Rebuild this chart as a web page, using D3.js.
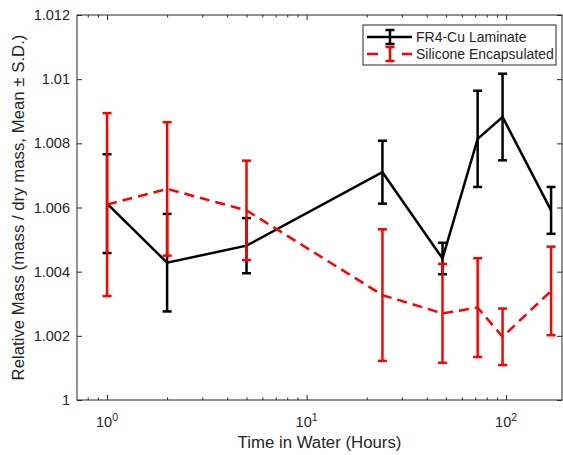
<!DOCTYPE html>
<html>
<head>
<meta charset="utf-8">
<title>Relative Mass vs Time in Water</title>
<script src="https://d3js.org/d3.v7.min.js"></script>
<style>
  body { margin: 0; background: #fff; }
  svg text { font-family: "Liberation Sans", Arial, Helvetica, sans-serif; fill: #262626; }
  .axis path { display: none; }
  .axis line { stroke: #262626; stroke-width: 1px; }
</style>
</head>
<body>
<div id="chart"></div>
<script>
// hours in water
var hours = [1, 2, 5, 24, 48, 72, 96, 168];

// FR4-Cu laminate: mean and s.d.
var fr4Mean = [1.00612, 1.00428, 1.00481, 1.00710, 1.00441, 1.00814, 1.00882, 1.00591];
var fr4SD   = [0.00154, 0.00152, 0.00086, 0.00098, 0.00049, 0.00150, 0.00135, 0.00073];

// silicone encapsulated: mean and s.d.
var silMean = [1.00609, 1.00658, 1.00591, 1.00327, 1.00270, 1.00288, 1.00197, 1.00340];
var silSD   = [0.00285, 0.00208, 0.00155, 0.00205, 0.00154, 0.00154, 0.00088, 0.00138];

var seriesNames = ["FR4-Cu Laminate", "Silicone Encapsulated"];

var yTicks = [1, 1.002, 1.004, 1.006, 1.008, 1.01, 1.012];
var yTickLabels = ["1", "1.002", "1.004", "1.006", "1.008", "1.01", "1.012"];
var xTicks = [1, 10, 100];
var xTickExp = ["0", "1", "2"];
var xMinor = [0.8, 0.9, 2, 3, 4, 5, 6, 7, 8, 9, 20, 30, 40, 50, 60, 70, 80, 90];

var width = 563, height = 455;
var pLeft = 77, pRight = 562, pTop = 15, pBottom = 400;

var svg = d3.select("#chart").append("svg")
    .attr("width", width)
    .attr("height", height);

var x = d3.scaleLog().domain([0.707, 190.6]).range([pLeft, pRight]);
var y = d3.scaleLinear().domain([1, 1.012]).range([pBottom, pTop]);

// box
svg.append("rect")
    .attr("x", pLeft).attr("y", pTop)
    .attr("width", pRight - pLeft).attr("height", pBottom - pTop)
    .attr("fill", "none").attr("stroke", "#262626").attr("stroke-width", 1);

// x ticks, bottom and top, pointing inward
function xAxis(g, gen, size, vals) {
  g.call(gen(x).tickValues(vals).tickSizeInner(-size).tickSizeOuter(0).tickFormat(""));
}
svg.append("g").attr("class", "axis").attr("transform", "translate(0," + pBottom + ")")
    .call(xAxis, d3.axisBottom, 5, xTicks);
svg.append("g").attr("class", "axis").attr("transform", "translate(0," + pBottom + ")")
    .call(xAxis, d3.axisBottom, 2.5, xMinor);
svg.append("g").attr("class", "axis").attr("transform", "translate(0," + pTop + ")")
    .call(xAxis, d3.axisTop, 5, xTicks);
svg.append("g").attr("class", "axis").attr("transform", "translate(0," + pTop + ")")
    .call(xAxis, d3.axisTop, 2.5, xMinor);

// x tick labels as 10^n
var xl = svg.append("g").selectAll("text")
    .data(xTicks)
    .enter().append("text")
      .attr("x", function(d) { return x(d); })
      .attr("y", 427)
      .attr("text-anchor", "middle")
      .style("font-size", "14.5px");
xl.append("tspan").text("10");
xl.append("tspan")
    .attr("dy", -6)
    .style("font-size", "10.5px")
    .text(function(d, i) { return xTickExp[i]; });

// y ticks left and right
svg.append("g").attr("class", "axis").attr("transform", "translate(" + pLeft + ",0)")
    .call(d3.axisLeft(y).tickValues(yTicks).tickSizeInner(-5).tickSizeOuter(0).tickPadding(7)
        .tickFormat(function(d, i) { return yTickLabels[i]; }))
    .selectAll("text").style("font-size", "14.5px").attr("fill", null);
svg.append("g").attr("class", "axis").attr("transform", "translate(" + pRight + ",0)")
    .call(d3.axisRight(y).tickValues(yTicks).tickSizeInner(-5).tickSizeOuter(0).tickFormat(""));

// axis titles
svg.append("text")
    .attr("x", (pLeft + pRight) / 2)
    .attr("y", 448)
    .attr("text-anchor", "middle")
    .style("font-size", "16.8px")
    .text("Time in Water (Hours)");

svg.append("text")
    .attr("transform", "translate(24," + ((pTop + pBottom) / 2) + ") rotate(-90)")
    .attr("text-anchor", "middle")
    .style("font-size", "16.8px")
    .text("Relative Mass (mass / dry mass, Mean \u00b1 S.D.)");

var capW = 9;

function drawSeries(means, sds, color, dash) {
  var g = svg.append("g");
  var rows = hours.map(function(h, i) { return { h: h, m: means[i], s: sds[i] }; });

  g.append("path")
      .datum(rows)
      .attr("fill", "none")
      .attr("stroke", color)
      .attr("stroke-width", 2.5)
      .attr("stroke-dasharray", dash)
      .attr("d", d3.line().x(function(d) { return x(d.h); }).y(function(d) { return y(d.m); }));

  var bars = g.selectAll(".bar").data(rows).enter().append("g").attr("class", "bar")
      .attr("stroke", color).attr("stroke-width", 2.5);
  bars.append("line")
      .attr("x1", function(d) { return x(d.h); })
      .attr("x2", function(d) { return x(d.h); })
      .attr("y1", function(d) { return y(d.m + d.s); })
      .attr("y2", function(d) { return y(d.m - d.s); });
  bars.append("line")
      .attr("x1", function(d) { return x(d.h) - capW / 2; })
      .attr("x2", function(d) { return x(d.h) + capW / 2; })
      .attr("y1", function(d) { return y(d.m + d.s); })
      .attr("y2", function(d) { return y(d.m + d.s); });
  bars.append("line")
      .attr("x1", function(d) { return x(d.h) - capW / 2; })
      .attr("x2", function(d) { return x(d.h) + capW / 2; })
      .attr("y1", function(d) { return y(d.m - d.s); })
      .attr("y2", function(d) { return y(d.m - d.s); });
}

drawSeries(fr4Mean, fr4SD, "#000000", null);
drawSeries(silMean, silSD, "#ff0000", "10,6");

// legend
var legend = svg.append("g");
legend.append("rect")
    .attr("x", 363).attr("y", 25).attr("width", 193).attr("height", 40)
    .attr("fill", "#fff").attr("stroke", "#262626").attr("stroke-width", 1);

var legColors = ["#000000", "#ff0000"];
var legDash = [null, "11,24"];
seriesNames.forEach(function(name, i) {
  var cy = 37 + i * 17;
  var row = legend.append("g").attr("stroke", legColors[i]).attr("stroke-width", 2.5);
  row.append("line").attr("x1", 367).attr("x2", 412).attr("y1", cy).attr("y2", cy)
      .attr("stroke-dasharray", legDash[i]);
  row.append("line").attr("x1", 390).attr("x2", 390).attr("y1", cy - 7).attr("y2", cy + 7);
  row.append("line").attr("x1", 385.5).attr("x2", 394.5).attr("y1", cy - 7).attr("y2", cy - 7);
  row.append("line").attr("x1", 385.5).attr("x2", 394.5).attr("y1", cy + 7).attr("y2", cy + 7);
  legend.append("text")
      .attr("x", 416).attr("y", cy + 4.5)
      .style("font-size", "14px")
      .text(name);
});
</script>
</body>
</html>
